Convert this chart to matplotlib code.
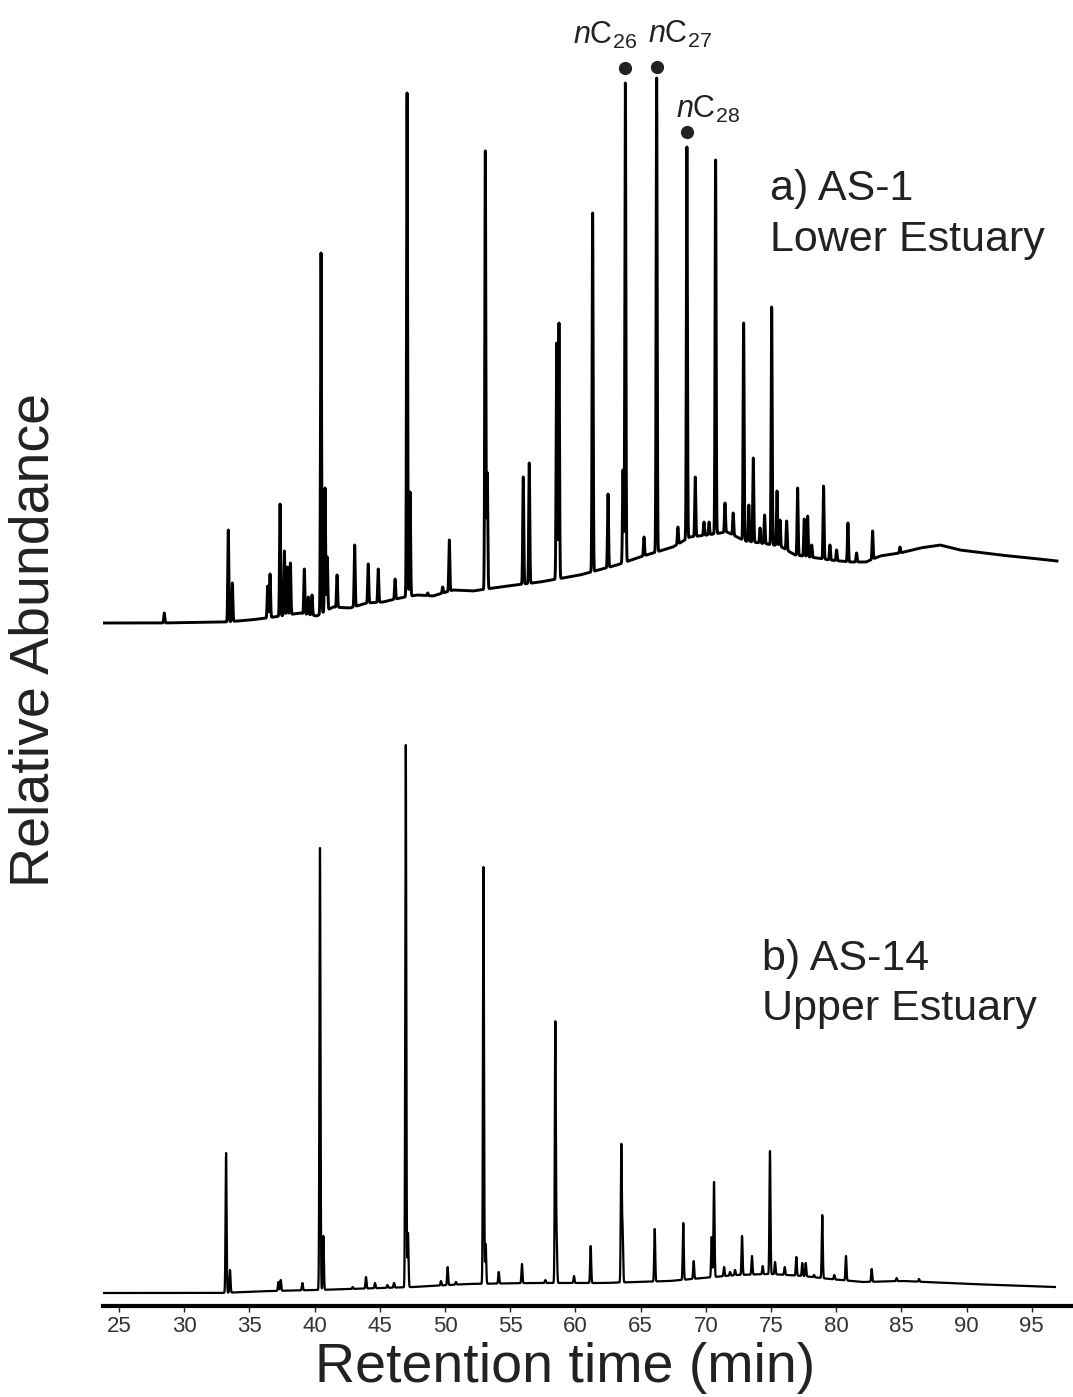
import numpy as np
import matplotlib.pyplot as plt
from matplotlib.transforms import ScaledTranslation

plt.rcParams['font.family'] = ['Liberation Sans', 'DejaVu Sans']
plt.rcParams['mathtext.fontset'] = 'custom'
plt.rcParams['mathtext.rm'] = 'Liberation Sans'
plt.rcParams['mathtext.it'] = 'Liberation Sans:italic'

# --- AS-1, lower estuary: resolved peaks (apex time in min, signal at apex) ---
as1_peak_time = [28.47, 33.38, 33.69, 36.40, 36.58, 37.35, 37.68, 37.91, 38.14, 39.21,
                 39.52, 39.80, 40.49, 40.80, 40.97, 41.72, 43.07, 44.11, 44.88, 46.17,
                 47.09, 47.32, 48.67, 49.82, 50.33, 53.09, 53.24, 56.00, 56.46, 58.56,
                 58.74, 61.32, 62.50, 63.65, 63.83, 65.26, 66.23, 67.86, 68.55, 69.19,
                 69.86, 70.25, 70.75, 71.47, 72.10, 72.90, 73.30, 73.64, 74.16, 74.51,
                 75.05, 75.46, 75.69, 76.20, 77.04, 77.55, 77.81, 78.12, 79.03, 79.52,
                 80.03, 80.90, 81.56, 82.79, 84.89]
as1_peak_signal = [10, 93, 40, 37, 49, 119, 72, 56, 60, 54,
                   26, 28, 370, 135, 66, 48, 78, 59, 54, 44,
                   530, 131, 30, 36, 83, 472, 150, 146, 160, 280,
                   300, 410, 129, 153, 540, 86, 545, 96, 476, 146,
                   101, 101, 463, 120, 110, 300, 118, 165, 95, 108,
                   316, 132, 103, 102, 135, 104, 107, 78, 137, 78,
                   73, 100, 70, 92, 76]
# unresolved baseline / hump of AS-1
as1_base_time = [23.77, 28.14, 33.13, 35.05, 36.35, 38.88, 40.18, 41.41, 42.71, 44.02,
                 45.25, 46.55, 47.85, 49.08, 50.61, 52.15, 54.22, 57.29, 60.35, 63.19,
                 64.95, 67.48, 68.79, 70.09, 71.63, 73.01, 74.16, 75.69, 76.84, 77.99,
                 79.52, 81.06, 82.29, 83.36, 84.89, 86.43, 87.96, 89.49, 92.56, 94.86,
                 96.93]
as1_base_signal = [0, 0, 1, 3, 5, 10, 7, 16, 15, 20,
                   21, 25, 28, 27, 33, 32, 36, 41, 48, 58,
                   66, 76, 86, 88, 91, 82, 80, 77, 68, 66,
                   63, 61, 61, 67, 70, 75, 78, 73, 68, 65,
                   62]

# --- AS-14, upper estuary ---
as14_peak_time = [33.21, 33.51, 37.22, 37.40, 39.06, 40.41, 40.67, 42.92, 43.94, 44.63,
                  45.58, 46.09, 46.99, 47.16, 49.69, 50.20, 50.84, 52.95, 53.12, 54.12,
                  55.90, 57.69, 58.46, 58.56, 59.89, 61.17, 63.52, 63.62, 66.08, 68.27,
                  69.07, 70.45, 70.63, 71.40, 71.86, 72.24, 72.78, 73.54, 74.36, 74.92,
                  75.31, 76.05, 76.94, 77.40, 77.66, 78.30, 78.93, 79.85, 80.75, 82.72,
                  84.63, 86.35]
as14_peak_signal = [140, 23, 11, 13, 10, 445, 57, 6, 16, 10,
                    8, 10, 548, 60, 12, 26, 11, 426, 49, 21,
                    29, 13, 270, 50, 17, 47, 147, 60, 64, 70,
                    32, 56, 111, 26, 21, 23, 57, 37, 27, 142,
                    31, 26, 36, 30, 30, 18, 78, 18, 37, 24,
                    15, 14]
as14_base_time = [23.77, 32.75, 36.58, 40.18, 42.71, 47.55, 51.69, 56.75, 59.59, 62.12,
                  67.25, 69.79, 72.39, 74.92, 77.45, 79.52, 82.06, 85.12, 90.26, 96.78]
as14_base_signal = [0, 0, 2, 3, 4, 6, 9, 10, 10, 10,
                    12, 15, 18, 19, 17, 14, 11, 12, 9, 6]

# n-alkane labels on AS-1
alkane_labels = ['26', '27', '28']
alkane_time = [63.83, 66.23, 68.55]
alkane_signal = [540, 545, 476]

TEXT = '#222222'


def build_trace(t, base_t, base_y, peak_t, peak_y, width=0.04):
    y = np.interp(t, base_t, base_y)
    for pt, py in zip(peak_t, peak_y):
        h = py - np.interp(pt, base_t, base_y)
        y = y + max(h, 0) * np.exp(-0.5 * ((t - pt) / width) ** 2)
    return y


fig = plt.figure(figsize=(10.73, 13.97), dpi=100)
ax = fig.add_axes([103 / 1073, 91 / 1397, 970 / 1073, 1306 / 1397])

# vertical offsets stacking the two runs
off_a = 683
off_b = 13

t_a = np.arange(as1_base_time[0], as1_base_time[-1], 0.005)
t_b = np.arange(as14_base_time[0], as14_base_time[-1], 0.005)
y_a = build_trace(t_a, as1_base_time, as1_base_signal, as1_peak_time, as1_peak_signal)
y_b = build_trace(t_b, as14_base_time, as14_base_signal, as14_peak_time, as14_peak_signal)

ax.plot(t_a, y_a + off_a, color='black', lw=2.1, solid_joinstyle='round')
ax.plot(t_b, y_b + off_b, color='black', lw=1.6, solid_joinstyle='round')

# dots and labels over the n-alkanes
dot_gap = [11, 8, 11]
label_off = [(-38, 17), (-6, 17), (-8, 10)]
for lab, t, s, g, (dx, dy) in zip(alkane_labels, alkane_time, alkane_signal, dot_gap, label_off):
    shift = ax.transData + ScaledTranslation(0, g / 72, fig.dpi_scale_trans)
    ax.plot(t, s + off_a, 'o', color=TEXT, ms=8.5, transform=shift)
    ax.annotate(r'$\mathit{n}\mathrm{C}_{' + lab + '}$', xy=(t, s + off_a),
                xytext=(dx, g + dy), textcoords='offset points',
                ha='left', va='baseline', fontsize=22, color=TEXT)

ax.text(0.6876, 0.847, 'a) AS-1', transform=ax.transAxes, fontsize=31,
        ha='left', va='baseline', color=TEXT)
ax.text(0.6876, 0.808, 'Lower Estuary', transform=ax.transAxes, fontsize=31,
        ha='left', va='baseline', color=TEXT)
ax.text(0.6794, 0.2573, 'b) AS-14', transform=ax.transAxes, fontsize=31,
        ha='left', va='baseline', color=TEXT)
ax.text(0.6794, 0.219, 'Upper Estuary', transform=ax.transAxes, fontsize=31,
        ha='left', va='baseline', color=TEXT)

ax.set_xlim(23.77, 98.16)
ax.set_ylim(0, 1306)
ax.set_xticks(np.arange(25, 100, 5))
ax.tick_params(axis='x', direction='out', length=4.5, width=1, pad=3,
               labelsize=16, labelcolor='#333333', color=TEXT)
ax.set_yticks([])
for side in ['left', 'top', 'right']:
    ax.spines[side].set_visible(False)
ax.spines['bottom'].set_linewidth(3)
ax.spines['bottom'].set_color('black')
ax.patch.set_visible(False)

fig.text(565 / 1073, 1 - 1368 / 1397, 'Retention time (min)', fontsize=40,
         ha='center', va='center', color=TEXT)
fig.text(35 / 1073, 1 - 640 / 1397, 'Relative Abundance', fontsize=40,
         ha='center', va='center', rotation=90, color=TEXT)

fig.savefig('out.png', dpi=100)
